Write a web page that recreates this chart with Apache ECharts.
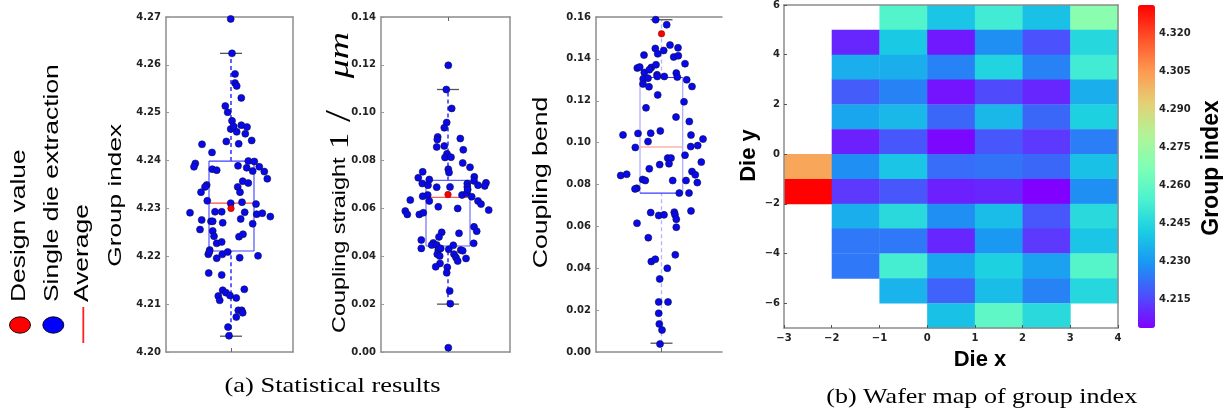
<!DOCTYPE html>
<html><head><meta charset="utf-8">
<script src="https://cdn.jsdelivr.net/npm/echarts@6/dist/echarts.min.js"></script>
<style>html,body{margin:0;padding:0;background:#fff}#c{width:1226px;height:410px}</style>
</head><body><div id="c"></div>
<script>
// ---------- DATA ----------
// Panel 1: group index (jitter offset, value)
const groupIndexJitter = [-0.3,1,4,4,5.7,10.3,-5.7,-3.3,1,-0.3,2.7,5.7,10.3,16,14.3,20.7,-4.7,7.7,-29,-19,-35.7,-37,-18.7,-14.3,7,17.3,23.3,28.3,15.7,21.7,33.3,36.3,11.7,17.3,-24.3,-26,6.7,
 -30,9,-23.7,-0.3,11,25,-41,-16,-9.3,13.7,25.7,31.3,39.3,-29.3,-20,-18.3,-8.3,9.7,21.7,-31,-18.3,-17,8,12,-14.3,-9.3,-21.3,-22.7,-21.7,-14.3,-8.7,-3.3,8.7,27,-22.3,-9.3,-8.3,-5,-12.7,-11.3,-1,5.3,13.3,7.3,10.7,11.7,5.3,-3,-2];
const groupIndexValues = [4.2696,4.2624,4.2581,4.2562,4.2556,4.2531,4.2514,4.2501,4.2483,4.2466,4.2471,4.2460,4.2474,4.2470,4.2456,4.2442,4.2440,4.2435,4.2434,4.2417,4.2394,4.2387,4.2382,4.2380,4.2389,4.2399,4.2398,4.2387,4.2385,4.2378,4.2377,4.2362,4.2357,4.2353,4.2349,4.2345,4.2345,
 4.2334,4.2334,4.2316,4.2311,4.2313,4.2309,4.2291,4.2293,4.2293,4.2292,4.2288,4.2290,4.2283,4.2276,4.2273,4.2273,4.2270,4.2278,4.2268,4.2256,4.2253,4.2242,4.2241,4.2246,4.2227,4.2230,4.2213,4.2204,4.2209,4.2196,4.2204,4.2209,4.2197,4.2201,4.2165,4.2161,4.2129,4.2124,4.2117,4.2108,4.2118,4.2113,4.2131,4.2087,4.2087,4.2082,4.2073,4.2052,4.2034];
const groupIndexBox = [4.2033, 4.2211, 4.2311, 4.2399, 4.2624]; // low, q1, average, q3, high
const groupIndexDesign = 4.2300;

// Panel 2: coupling straight
const straightJitter = [0.3,-1.7,3.7,-1.3,-3.7,-10.3,-10.7,12.3,-11.3,-3.7,15.3,-1,-3,3,14.7,22,0.3,1,-25.3,-29.7,-18.7,-25.7,-20,-11.3,2,26.3,19.3,26,30,38,36.7,19.3,
 -20.3,-25.3,14,18.7,23.7,19.7,-37.7,-18.7,30,33,-42.7,-40.7,-28.7,-24.7,-9.7,9.7,40.7,26,28.7,-6.3,-9,11,-26.7,-26.7,-14.7,-16.3,-11.3,-9.7,-7.3,5.3,0.7,12.7,14.7,25.7,-10.7,-8.3,6,8,9.7,18,-8,-12.3,-0.7,-1.3,1.7,2.3,0.3];
const straightValues = [0.1198,0.1097,0.1018,0.0959,0.0937,0.0899,0.0888,0.0892,0.0857,0.0861,0.0845,0.0828,0.0813,0.0814,0.0790,0.0772,0.0764,0.0750,0.0753,0.0728,0.0721,0.0704,0.0697,0.0689,0.0690,0.0732,0.0704,0.0715,0.0697,0.0707,0.0694,0.0690,
 0.0656,0.0651,0.0656,0.0663,0.0649,0.0679,0.0635,0.0631,0.0631,0.0618,0.0589,0.0575,0.0575,0.0582,0.0607,0.0600,0.0593,0.0523,0.0505,0.0500,0.0481,0.0496,0.0468,0.0433,0.0456,0.0447,0.0447,0.0426,0.0433,0.0446,0.0429,0.0426,0.0423,0.0454,0.0409,0.0401,0.0409,0.0395,0.0380,0.0391,0.0370,0.0356,0.0354,0.0331,0.0255,0.0202,0.0018];
const straightBox = [0.0200, 0.0443, 0.0646, 0.0717, 0.1097];
const straightDesign = 0.0658;

// Panel 3: coupling bend
const bendJitter = [-5.8,5.2,-6.2,-3.8,2.2,8.5,16.5,-17.5,12.2,16.8,23.5,-24.2,-21.8,-10.2,-5.5,-17.2,-12.2,-4.5,-4.2,2.8,14.8,15.8,-18.2,-13.5,25.2,-18.5,-12.5,30.5,-3.8,22.5,-15.5,14.5,27.8,-38.5,-23.5,-10.8,-1.2,29.5,-13.5,-26.2,29.2,36.2,41.5,23.5,6.2,9.5,7.5,-1.8,39.8,-12.2,-40.8,-34.8,-18.8,-16.2,11.2,30.5,33.8,35.8,24.5,-24.8,
 -26.5,17.8,27.5,-10.8,-2.8,2.5,12.8,13.5,14.8,29.5,-24.5,14.8,-13.2,-10.2,-6.2,13.8,5.8,-1.8,-2.8,6.5,-2.8,-2.2,0.5,-1.5];
const bendValues = [0.1587,0.1563,0.1450,0.1424,0.1440,0.1466,0.1453,0.1418,0.1409,0.1415,0.1377,0.1356,0.1361,0.1359,0.1372,0.1335,0.1348,0.1324,0.1316,0.1316,0.1332,0.1313,0.1305,0.1308,0.1300,0.1280,0.1267,0.1268,0.1228,0.1195,0.1166,0.1122,0.1101,0.1037,0.1044,0.1045,0.1056,0.1036,0.1005,0.0977,0.0981,0.0986,0.1017,0.0940,0.0926,0.0926,0.0899,0.0895,0.0907,0.0875,0.0843,0.0849,0.0824,0.0819,0.0819,0.0862,0.0846,0.0809,0.0819,0.0782,
 0.0779,0.0759,0.0759,0.0666,0.0652,0.0655,0.0668,0.0655,0.0634,0.0674,0.0615,0.0596,0.0546,0.0432,0.0443,0.0464,0.0400,0.0349,0.0239,0.0239,0.0185,0.0134,0.0105,0.0038];
const bendBox = [0.0042, 0.0759, 0.0979, 0.1311, 0.1587];
const bendDesign = 0.152;

// Panel (b): wafer map, rows top (y=5) to bottom (y=-7), columns x=-3..3
const dieXStarts = [-3,-2,-1,0,1,2,3];
const dieYStarts = [5,4,3,2,1,0,-1,-2,-3,-4,-5,-6,-7];
const waferGroupIndex = [
 [null,null,4.256,4.240,4.252,4.239,4.270],
 [null,4.210,4.241,4.208,4.228,4.217,4.245],
 [null,4.235,4.235,4.226,4.244,4.226,4.252],
 [null,4.219,4.226,4.207,4.216,4.210,4.235],
 [null,4.233,4.237,4.221,4.237,4.221,4.243],
 [null,4.209,4.218,4.205,4.218,4.213,4.225],
 [4.302,4.228,4.240,4.222,4.223,4.221,4.239],
 [4.331,4.213,4.218,4.209,4.210,4.204,4.228],
 [null,4.235,4.246,4.228,4.238,4.218,4.246],
 [null,4.224,4.224,4.210,4.230,4.213,4.240],
 [null,4.224,4.253,4.233,4.243,4.232,4.257],
 [null,null,4.236,4.220,4.238,4.226,4.245],
 [null,null,null,4.239,4.259,4.246,null]
];
const colorbarTicks = [4.215,4.230,4.245,4.260,4.275,4.290,4.305,4.320];
const colorMin = 4.2039, colorMax = 4.3311;
const dieXTicks = [-3,-2,-1,0,1,2,3,4];
const dieYTicks = [-6,-4,-2,0,2,4,6];

// ---------- CHART ----------
const rainbow = ['#8000ff','#4d4ffc','#1a96f3','#1acee3','#4df3ce','#80ffb4','#b3f396','#e6ce74','#ff964f','#ff4f28','#ff0000'];
const zip = (a,b)=>a.slice(0,Math.min(a.length,b.length)).map((v,i)=>[v,b[i]]);
const gray = '#8c8c8c';
const tickFont = {fontFamily:'DejaVu Sans', fontWeight:'bold', fontSize:10, color:'#222'};

const grids = [
 {left:166, top:17, width:127, height:335},
 {left:381, top:17, width:129, height:335},
 {left:596, top:17, width:126, height:335},
 {left:784, top:5, width:334, height:323},
 {left:1138, top:5, width:17, height:323}
].map(g=>Object.assign({outerBoundsMode:'none', containLabel:false}, g));

function xLine(gi, min, max, pos, tick) {
  return {type:'value', gridIndex:gi, min, max, position:pos,
    axisLine:{show:true, onZero:false, lineStyle:{color:gray, width:1.5}},
    axisTick:{show:!!tick, inside:true, length:4, customValues:[0], lineStyle:{color:'#666'}},
    axisLabel:{show:false}, splitLine:{show:false}};
}
function yLeft(gi, min, max, interval) {
  return {type:'value', gridIndex:gi, min, max, interval, position:'left',
    axisLine:{show:true, onZero:false, lineStyle:{color:gray, width:1.5}},
    axisTick:{show:true, inside:true, length:3, lineStyle:{color:'#999'}},
    axisLabel:Object.assign({margin:5, formatter:v=>v.toFixed(2)}, tickFont),
    splitLine:{show:false}};
}
function yRightLine(gi, min, max, z) {
  return {type:'value', gridIndex:gi, min, max, position:'right', z:z||0,
    axisLine:{show:true, onZero:false, lineStyle:{color:gray, width:1.5}},
    axisTick:{show:false}, axisLabel:{show:false}, splitLine:{show:false}};
}

const ranges = [[-65,62],[-67,62],[-65.5,60.5]];
const xAxis = [
  xLine(0, ranges[0][0], ranges[0][1], 'bottom', true), xLine(0, ranges[0][0], ranges[0][1], 'top', true),
  xLine(1, ranges[1][0], ranges[1][1], 'bottom', true), xLine(1, ranges[1][0], ranges[1][1], 'top', true),
  xLine(2, ranges[2][0], ranges[2][1], 'bottom', true), xLine(2, ranges[2][0], ranges[2][1], 'top', false),
  {type:'value', gridIndex:3, min:-3, max:4, interval:1, position:'bottom', z:5,
    axisLine:{show:true, onZero:false, lineStyle:{color:gray, width:1.5}},
    axisTick:{show:true, inside:true, length:3, lineStyle:{color:'#555'}},
    axisLabel:Object.assign({margin:5, customValues:dieXTicks, formatter:v=>v<0?'\u2212'+(-v):String(v)}, tickFont),
    splitLine:{show:false}},
  {type:'value', gridIndex:3, min:-3, max:4, position:'top', z:5,
    axisLine:{show:true, onZero:false, lineStyle:{color:gray, width:1.5}},
    axisTick:{show:false}, axisLabel:{show:false}, splitLine:{show:false}},
  {type:'value', gridIndex:4, min:0, max:1, show:false}
];
const yAxis = [
  yLeft(0, 4.20, 4.27, 0.01), yRightLine(0, 4.20, 4.27),
  yLeft(1, 0, 0.14, 0.02), yRightLine(1, 0, 0.14),
  yLeft(2, 0, 0.16, 0.02),
  {type:'value', gridIndex:3, min:-7, max:6, position:'left', z:5,
    axisLine:{show:true, onZero:false, lineStyle:{color:gray, width:1.5}},
    axisTick:{show:true, inside:true, length:3, customValues:dieYTicks, lineStyle:{color:'#555'}},
    axisLabel:Object.assign({margin:4, customValues:dieYTicks, formatter:v=>v<0?'\u2212'+(-v):String(v)}, tickFont),
    splitLine:{show:false}},
  yRightLine(3, -7, 6, 5),
  {type:'value', gridIndex:4, min:colorMin, max:colorMax, position:'right',
    axisLine:{show:false},
    axisTick:{show:true, inside:false, length:3, customValues:colorbarTicks, lineStyle:{color:'#333'}},
    axisLabel:Object.assign({margin:4, customValues:colorbarTicks, formatter:v=>v.toFixed(3)}, tickFont),
    splitLine:{show:false}}
];

const boxStyles = [
  {l:-22, r:23, cap:11, whisker:'#1010ff', side:'#5050ff', edge:'#4040ff', median:'#ff4a4a', capColor:'#555'},
  {l:-22, r:22, cap:11, whisker:'#1010ff', side:'#7070ff', edge:'#6060ff', median:'#ff5a5a', capColor:'#555'},
  {l:-21.5, r:21.2, cap:11, whisker:'#b4b4ff', side:'#a8a8ff', edge:'#3a3aff', median:'#ffb0b0', capColor:'#555'}
];
function boxSeries(pi, stats, yIdx) {
  const st = boxStyles[pi];
  return {type:'custom', xAxisIndex:2*pi, yAxisIndex:yIdx, z:1, silent:true,
    data:[[0].concat(stats)], encode:{x:0, y:1},
    renderItem(params, api){
      const lo=api.value(1), q1=api.value(2), md=api.value(3), q3=api.value(4), hi=api.value(5);
      const c=(x,y)=>api.coord([x,y]);
      const L=(a,b,style)=>({type:'line', shape:{x1:a[0],y1:a[1],x2:b[0],y2:b[1]}, style});
      const dash={stroke:st.whisker, lineWidth:1.3, lineDash:[4,3]};
      const cap={stroke:st.capColor, lineWidth:1.3};
      const side={stroke:st.side, lineWidth:1.2};
      const edge={stroke:st.edge, lineWidth:1.2};
      const med={stroke:st.median, lineWidth:1.3};
      return {type:'group', children:[
        L(c(0,q3),c(0,hi),dash), L(c(0,lo),c(0,q1),dash),
        L(c(-st.cap,hi),c(st.cap,hi),cap), L(c(-st.cap,lo),c(st.cap,lo),cap),
        L(c(st.l,q1),c(st.l,q3),side), L(c(st.r,q1),c(st.r,q3),side),
        L(c(st.l,q3),c(st.r,q3),edge), L(c(st.l,q1),c(st.r,q1),edge),
        L(c(st.l,md),c(st.r,md),med)
      ]};
    }};
}
function dots(pi, data, yIdx) {
  return {type:'scatter', xAxisIndex:2*pi, yAxisIndex:yIdx, z:3, silent:true, symbolSize:7,
    itemStyle:{color:'#0808ee', borderColor:'#101040', borderWidth:0.6, opacity:1}, data};
}
function design(pi, v, yIdx) {
  return {type:'scatter', xAxisIndex:2*pi, yAxisIndex:yIdx, z:4, silent:true, symbolSize:6.5,
    itemStyle:{color:'#ff0000', borderColor:'#700', borderWidth:0.5, opacity:1}, data:[[0, v]]};
}

const heatData = [];
dieYStarts.forEach((y,r)=>dieXStarts.forEach((x,c)=>{
  const v = waferGroupIndex[r][c]; if (v != null) heatData.push([x, y, v]);
}));
const diePitch = 1;

const series = [
  boxSeries(0, groupIndexBox, 0), dots(0, zip(groupIndexJitter, groupIndexValues), 0), design(0, groupIndexDesign, 0),
  boxSeries(1, straightBox, 2), dots(1, zip(straightJitter, straightValues), 2), design(1, straightDesign, 2),
  boxSeries(2, bendBox, 4), dots(2, zip(bendJitter, bendValues), 4), design(2, bendDesign, 4),
  {type:'custom', xAxisIndex:6, yAxisIndex:5, z:2, silent:true, data:heatData, encode:{x:0, y:1},
    renderItem(params, api){
      const x0=api.value(0), y0=api.value(1);
      const a=api.coord([x0, y0+diePitch]), b=api.coord([x0+diePitch, y0]);
      return {type:'rect', shape:{x:a[0], y:a[1], width:b[0]-a[0]+0.4, height:b[1]-a[1]+0.4},
        style:{fill:api.visual('color')}};
    }}
];

const sans = 'Liberation Sans', serif = 'Liberation Serif';
function vtext(x, y, text, size, scale, extra) {
  return Object.assign({type:'text', x, y, rotation:Math.PI/2, scaleX:scale, silent:true, z:100,
    style:Object.assign({text, fontFamily:sans, fontSize:size, fill:'#000',
      align:'center', textAlign:'center', verticalAlign:'middle', textVerticalAlign:'middle'}, extra||{})});
}
const graphic = [
  vtext(19, 302, 'Design value', 20, 1.32, {align:'left', textAlign:'left'}),
  vtext(52.5, 302, 'Single die extraction', 20, 1.32, {align:'left', textAlign:'left'}),
  vtext(82.2, 302, 'Average', 20, 1.32, {align:'left', textAlign:'left'}),
  {type:'circle', x:20, y:325, scaleY:0.78, silent:true, z:100, shape:{cx:0, cy:0, r:10.5}, style:{fill:'#ff0000', stroke:'#000', lineWidth:1}},
  {type:'circle', x:53.3, y:325, scaleY:0.78, silent:true, z:100, shape:{cx:0, cy:0, r:10.5}, style:{fill:'#0000ff', stroke:'#000', lineWidth:1}},
  {type:'line', silent:true, z:100, shape:{x1:83.3, y1:307, x2:83.3, y2:343}, style:{stroke:'#ff2020', lineWidth:1.8}},
  vtext(116.2, 195.3, 'Group index', 19, 1.38),
  vtext(340, 333, 'Coupling straight', 18, 1.3, {align:'left', textAlign:'left'}),
  vtext(341, 141, '1', 27, 1.2, {fontFamily:serif}),
  vtext(341, 116, '/', 36, 1.2, {fontFamily:serif}),
  vtext(341, 55, '\u03bcm', 28, 1.35, {fontFamily:serif, fontStyle:'italic'}),
  vtext(541, 182.5, 'Coupling bend', 20, 1.33),
  {type:'text', x:332.5, y:386, scaleX:1.26, silent:true, z:100,
    style:{text:'(a) Statistical results', fontFamily:serif, fontSize:21, fill:'#000', align:'center', textAlign:'center', verticalAlign:'middle', textVerticalAlign:'middle'}},
  {type:'text', x:981.7, y:397, scaleX:1.24, silent:true, z:100,
    style:{text:'(b) Wafer map of group index', fontFamily:serif, fontSize:21, fill:'#000', align:'center', textAlign:'center', verticalAlign:'middle', textVerticalAlign:'middle'}},
  {type:'text', x:980, y:360, silent:true, z:100,
    style:{text:'Die x', fontFamily:sans, fontWeight:'bold', fontSize:22, fill:'#000', align:'center', textAlign:'center', verticalAlign:'middle', textVerticalAlign:'middle'}},
  vtext(749, 155.5, 'Die y', 22, 1.0, {fontWeight:'bold'}),
  vtext(1211.7, 168, 'Group index', 23, 1.0, {fontWeight:'bold'})
];

const chart = echarts.init(document.getElementById('c'), null, {renderer:'canvas'});
chart.setOption({
  animation:false,
  backgroundColor:'#fff',
  grid:grids, xAxis, yAxis, series, graphic,
  visualMap:{type:'continuous', min:colorMin, max:colorMax, dimension:2, seriesIndex:9,
    calculable:false, orient:'vertical', left:1138, top:5, itemWidth:17, itemHeight:323,
    padding:0, text:null, hoverLink:false, inRange:{color:rainbow}}
});
</script></body></html>
